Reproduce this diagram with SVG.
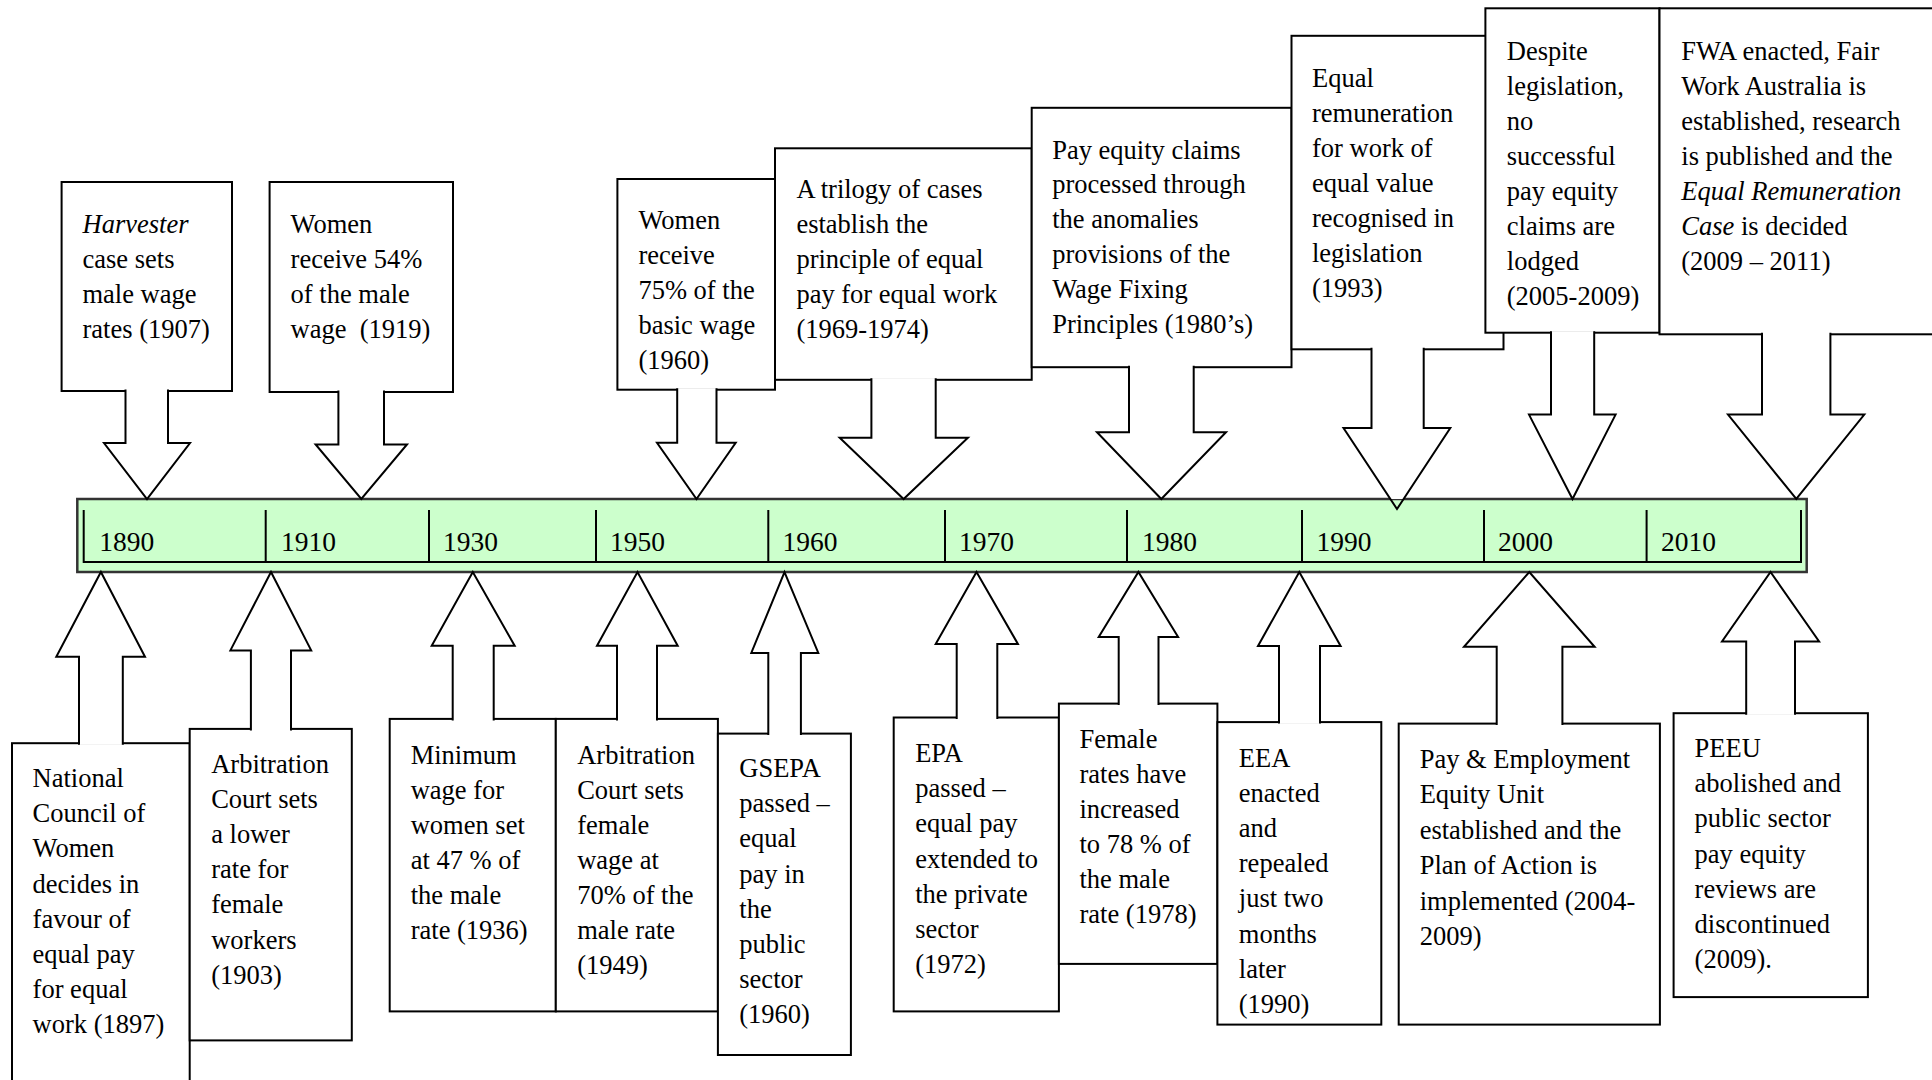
<svg xmlns="http://www.w3.org/2000/svg" width="1932" height="1080" viewBox="0 0 1932 1080">
<style>
.bg{fill:#ffffff}
.box{fill:#ffffff;stroke:#000;stroke-width:2}
.arr{fill:#ffffff;stroke:#000;stroke-width:2;stroke-linejoin:miter}
.arrline{fill:none;stroke:#000;stroke-width:2}
.arrfill{fill:#ffffff;stroke:none}
.bar{fill:#CCFFCC;stroke:#333333;stroke-width:2.5}
.inner{fill:none;stroke:#000;stroke-width:2}
.t{font-family:"Liberation Serif","Times New Roman",serif;font-size:26.5px;fill:#000}
.yr{font-family:"Liberation Serif","Times New Roman",serif;font-size:27.5px;fill:#000}
.i{font-style:italic}
</style>
<rect class="bg" x="0" y="0" width="1932" height="1080"/>

<g id="timeline">
<rect class="bar" x="77.3" y="499" width="1729.4" height="73"/>
<path class="inner" d="M83.7,510 V562 H1801 V510"/>
<path class="inner" d="M265.7,510V562 M429,510V562 M596,510V562 M768.3,510V562 M945,510V562 M1127,510V562 M1302,510V562 M1484,510V562 M1646.6,510V562"/>
<text class="yr" x="99.3" y="551">1890</text>
<text class="yr" x="281" y="551">1910</text>
<text class="yr" x="443" y="551">1930</text>
<text class="yr" x="610" y="551">1950</text>
<text class="yr" x="782.6" y="551">1960</text>
<text class="yr" x="959" y="551">1970</text>
<text class="yr" x="1142" y="551">1980</text>
<text class="yr" x="1316.5" y="551">1990</text>
<text class="yr" x="1498" y="551">2000</text>
<text class="yr" x="1661" y="551">2010</text>
</g>

<g id="nodes">
<g id="harvester">
<rect class="box" x="61.6" y="182" width="170.4" height="209"/>
<text class="t" x="82.5" y="232.5"><tspan class="i">Harvester</tspan><tspan x="82.5" dy="35.1">case sets</tspan><tspan x="82.5" dy="35.1">male wage</tspan><tspan x="82.5" dy="35.1">rates (1907)</tspan></text>
</g>
<g id="women54">
<rect class="box" x="269.6" y="182" width="183.4" height="210"/>
<text class="t" x="290.6" y="233"><tspan>Women</tspan><tspan x="290.6" dy="35.1">receive 54%</tspan><tspan x="290.6" dy="35.1">of the male</tspan><tspan x="290.6" dy="35.1">wage&#160; (1919)</tspan></text>
</g>
<g id="women75">
<rect class="box" x="617.4" y="179" width="157.6" height="210.7"/>
<text class="t" x="638.4" y="229"><tspan>Women</tspan><tspan x="638.4" dy="35.1">receive</tspan><tspan x="638.4" dy="35.1">75% of the</tspan><tspan x="638.4" dy="35.1">basic wage</tspan><tspan x="638.4" dy="35.1">(1960)</tspan></text>
</g>
<g id="trilogy">
<rect class="box" x="775" y="148.3" width="256.7" height="231.5"/>
<text class="t" x="796.4" y="198"><tspan>A trilogy of cases</tspan><tspan x="796.4" dy="35.1">establish the</tspan><tspan x="796.4" dy="35.1">principle of equal</tspan><tspan x="796.4" dy="35.1">pay for equal work</tspan><tspan x="796.4" dy="35.1">(1969-1974)</tspan></text>
</g>
<g id="payequity">
<rect class="box" x="1031.7" y="107.8" width="259.8" height="259.4"/>
<text class="t" x="1052.2" y="158.5"><tspan>Pay equity claims</tspan><tspan x="1052.2" dy="34.9">processed through</tspan><tspan x="1052.2" dy="34.9">the anomalies</tspan><tspan x="1052.2" dy="34.9">provisions of the</tspan><tspan x="1052.2" dy="34.9">Wage Fixing</tspan><tspan x="1052.2" dy="34.9">Principles (1980’s)</tspan></text>
</g>
<g id="equalrem">
<rect class="box" x="1291.5" y="35.8" width="212" height="313.5"/>
<text class="t" x="1312" y="87"><tspan>Equal</tspan><tspan x="1312" dy="35">remuneration</tspan><tspan x="1312" dy="35">for work of</tspan><tspan x="1312" dy="35">equal value</tspan><tspan x="1312" dy="35">recognised in</tspan><tspan x="1312" dy="35">legislation</tspan><tspan x="1312" dy="35">(1993)</tspan></text>
</g>
<g id="despite">
<rect class="box" x="1485.4" y="8.3" width="174.1" height="324.4"/>
<text class="t" x="1506.8" y="59.7"><tspan>Despite</tspan><tspan x="1506.8" dy="35">legislation,</tspan><tspan x="1506.8" dy="35">no</tspan><tspan x="1506.8" dy="35">successful</tspan><tspan x="1506.8" dy="35">pay equity</tspan><tspan x="1506.8" dy="35">claims are</tspan><tspan x="1506.8" dy="35">lodged</tspan><tspan x="1506.8" dy="35">(2005-2009)</tspan></text>
</g>
<g id="fwa">
<rect class="box" x="1659.5" y="8.3" width="274.5" height="326"/>
<text class="t" x="1681.3" y="59.7"><tspan>FWA enacted, Fair</tspan><tspan x="1681.3" dy="35">Work Australia is</tspan><tspan x="1681.3" dy="35">established, research</tspan><tspan x="1681.3" dy="35">is published and the</tspan><tspan x="1681.3" dy="35" class="i">Equal Remuneration</tspan><tspan x="1681.3" dy="35"><tspan class="i">Case</tspan> is decided</tspan><tspan x="1681.3" dy="35">(2009 – 2011)</tspan></text>
</g>

<g id="ncw">
<rect class="box" x="12" y="743.2" width="177.7" height="350"/>
<text class="t" x="32.6" y="787"><tspan>National</tspan><tspan x="32.6" dy="35.2">Council of</tspan><tspan x="32.6" dy="35.2">Women</tspan><tspan x="32.6" dy="35.2">decides in</tspan><tspan x="32.6" dy="35.2">favour of</tspan><tspan x="32.6" dy="35.2">equal pay</tspan><tspan x="32.6" dy="35.2">for equal</tspan><tspan x="32.6" dy="35.2">work (1897)</tspan></text>
</g>
<g id="arb1903">
<rect class="box" x="189.7" y="728.9" width="162.1" height="311.5"/>
<text class="t" x="211.2" y="773"><tspan>Arbitration</tspan><tspan x="211.2" dy="35.1">Court sets</tspan><tspan x="211.2" dy="35.1">a lower</tspan><tspan x="211.2" dy="35.1">rate for</tspan><tspan x="211.2" dy="35.1">female</tspan><tspan x="211.2" dy="35.1">workers</tspan><tspan x="211.2" dy="35.1">(1903)</tspan></text>
</g>
<g id="minwage">
<rect class="box" x="389.7" y="718.9" width="166.1" height="292.5"/>
<text class="t" x="410.7" y="764"><tspan>Minimum</tspan><tspan x="410.7" dy="35">wage for</tspan><tspan x="410.7" dy="35">women set</tspan><tspan x="410.7" dy="35">at 47 % of</tspan><tspan x="410.7" dy="35">the male</tspan><tspan x="410.7" dy="35">rate (1936)</tspan></text>
</g>
<g id="arb1949">
<rect class="box" x="555.8" y="718.9" width="162.1" height="292.5"/>
<text class="t" x="577.2" y="764"><tspan>Arbitration</tspan><tspan x="577.2" dy="35">Court sets</tspan><tspan x="577.2" dy="35">female</tspan><tspan x="577.2" dy="35">wage at</tspan><tspan x="577.2" dy="35">70% of the</tspan><tspan x="577.2" dy="35">male rate</tspan><tspan x="577.2" dy="35">(1949)</tspan></text>
</g>
<g id="gsepa">
<rect class="box" x="717.9" y="733.6" width="133" height="321.4"/>
<text class="t" x="739.3" y="777"><tspan>GSEPA</tspan><tspan x="739.3" dy="35.2">passed –</tspan><tspan x="739.3" dy="35.2">equal</tspan><tspan x="739.3" dy="35.2">pay in</tspan><tspan x="739.3" dy="35.2">the</tspan><tspan x="739.3" dy="35.2">public</tspan><tspan x="739.3" dy="35.2">sector</tspan><tspan x="739.3" dy="35.2">(1960)</tspan></text>
</g>
<g id="epa">
<rect class="box" x="893.7" y="717.5" width="165.2" height="293.9"/>
<text class="t" x="915.2" y="762"><tspan>EPA</tspan><tspan x="915.2" dy="35.2">passed –</tspan><tspan x="915.2" dy="35.2">equal pay</tspan><tspan x="915.2" dy="35.2">extended to</tspan><tspan x="915.2" dy="35.2">the private</tspan><tspan x="915.2" dy="35.2">sector</tspan><tspan x="915.2" dy="35.2">(1972)</tspan></text>
</g>
<g id="female78">
<rect class="box" x="1058.9" y="703.6" width="158.5" height="260.3"/>
<text class="t" x="1079.5" y="747.5"><tspan>Female</tspan><tspan x="1079.5" dy="35.1">rates have</tspan><tspan x="1079.5" dy="35.1">increased</tspan><tspan x="1079.5" dy="35.1">to 78 % of</tspan><tspan x="1079.5" dy="35.1">the male</tspan><tspan x="1079.5" dy="35.1">rate (1978)</tspan></text>
</g>
<g id="eea">
<rect class="box" x="1217.4" y="722.1" width="163.9" height="302.5"/>
<text class="t" x="1238.8" y="766.5"><tspan>EEA</tspan><tspan x="1238.8" dy="35.2">enacted</tspan><tspan x="1238.8" dy="35.2">and</tspan><tspan x="1238.8" dy="35.2">repealed</tspan><tspan x="1238.8" dy="35.2">just two</tspan><tspan x="1238.8" dy="35.2">months</tspan><tspan x="1238.8" dy="35.2">later</tspan><tspan x="1238.8" dy="35.2">(1990)</tspan></text>
</g>
<g id="peeu-est">
<rect class="box" x="1398.7" y="723.6" width="261.2" height="301"/>
<text class="t" x="1419.7" y="767.5"><tspan>Pay &amp; Employment</tspan><tspan x="1419.7" dy="35.5">Equity Unit</tspan><tspan x="1419.7" dy="35.5">established and the</tspan><tspan x="1419.7" dy="35.5">Plan of Action is</tspan><tspan x="1419.7" dy="35.5">implemented (2004-</tspan><tspan x="1419.7" dy="35.5">2009)</tspan></text>
</g>
<g id="peeu-abol">
<rect class="box" x="1673.6" y="713.2" width="194.3" height="283.9"/>
<text class="t" x="1694.6" y="757"><tspan>PEEU</tspan><tspan x="1694.6" dy="35.2">abolished and</tspan><tspan x="1694.6" dy="35.2">public sector</tspan><tspan x="1694.6" dy="35.2">pay equity</tspan><tspan x="1694.6" dy="35.2">reviews are</tspan><tspan x="1694.6" dy="35.2">discontinued</tspan><tspan x="1694.6" dy="35.2">(2009).</tspan></text>
</g>
</g>

<g id="connectors">
<path class="arr" d="M125.5,389.5 V443 H104 L147,499 L190,443 H168 V389.5"/>
<path class="arr" d="M338.4,390.5 V444.4 H315.6 L361.3,499 L407,444.4 H384 V390.5"/>
<path class="arr" d="M677.2,388.2 V442.8 H657 L696.5,499 L735.7,442.8 H716.5 V388.2"/>
<path class="arr" d="M871.4,378.3 V437.8 H839.7 L903.6,499 L967.9,437.8 H935.7 V378.3"/>
<path class="arr" d="M1129,365.7 V432.2 H1097 L1161.3,499 L1226,432.2 H1193.7 V365.7"/>
<path class="arrfill" d="M1371.5,347.8 V428 H1343.5 L1390.4,499 H1403.6 L1450.3,428 H1423.7 V347.8 Z"/>
<path class="arrline" d="M1371.5,347.8 V428 H1343.5 L1397,509 L1450.3,428 H1423.7 V347.8"/>
<path class="arr" d="M1551,331.2 V414.6 H1529 L1572.5,499 L1615.6,414.6 H1594.2 V331.2"/>
<path class="arr" d="M1762,332.8 V414.6 H1728 L1796.3,499 L1864.3,414.6 H1830.4 V332.8"/>

<path class="arr" d="M79,744.7 V656.8 H56.3 L100.9,572 L145,656.8 H122.8 V744.7"/>
<path class="arr" d="M250.9,730.4 V650.4 H230.4 L271,572 L311.2,650.4 H291 V730.4"/>
<path class="arr" d="M452.7,720.4 V645.7 H431.7 L472.8,572 L514.7,645.7 H493.7 V720.4"/>
<path class="arr" d="M617,720.4 V645.7 H597 L637.5,572 L677.7,645.7 H657 V720.4"/>
<path class="arr" d="M768.3,735.1 V652.9 H751.3 L784.5,572 L818.3,652.9 H800.9 V735.1"/>
<path class="arr" d="M956.7,719 V643.9 H935.7 L976.5,572 L1017.9,643.9 H997.3 V719"/>
<path class="arr" d="M1118.7,705.1 V637.1 H1098.7 L1138.4,572 L1178.1,637.1 H1158.5 V705.1"/>
<path class="arr" d="M1279,723.6 V646 H1258 L1299.3,572 L1340.6,646 H1320 V723.6"/>
<path class="arr" d="M1496.7,725.1 V646.8 H1464 L1529.3,572 L1594.6,646.8 H1562.4 V725.1"/>
<path class="arr" d="M1746.2,714.7 V641.4 H1722 L1770.5,572 L1819.1,641.4 H1795 V714.7"/>
</g>
</svg>
